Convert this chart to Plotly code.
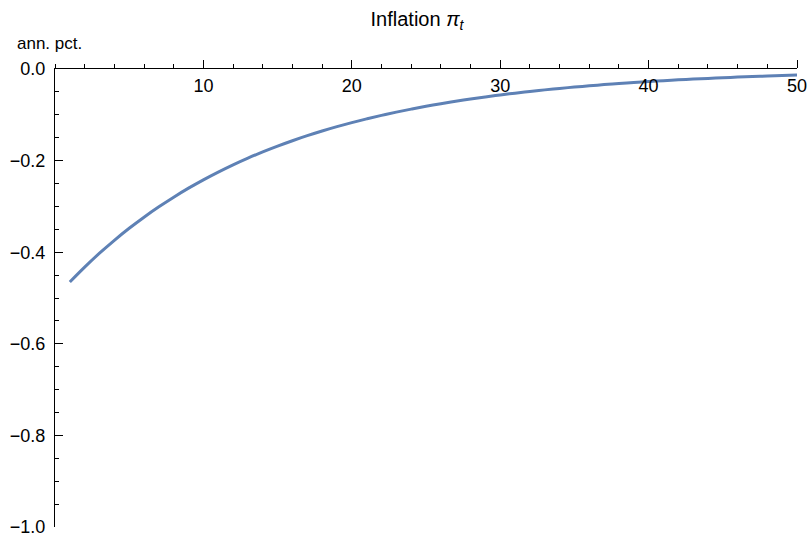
import plotly.graph_objects as go

t = list(range(1, 51))
inflation = [
    -0.465, -0.4325, -0.4022, -0.3740, -0.3478, -0.3235, -0.3009, -0.2798, -0.2602, -0.2420,
    -0.2251, -0.2093, -0.1946, -0.1810, -0.1684, -0.1566, -0.1456, -0.1354, -0.1259, -0.1171,
    -0.1089, -0.1013, -0.0942, -0.0876, -0.0815, -0.0758, -0.0705, -0.0655, -0.0610, -0.0567,
    -0.0527, -0.0490, -0.0456, -0.0424, -0.0394, -0.0367, -0.0341, -0.0317, -0.0295, -0.0274,
    -0.0255, -0.0237, -0.0221, -0.0205, -0.0191, -0.0177, -0.0165, -0.0154, -0.0143, -0.0133,
]
x_ticks = [10, 20, 30, 40, 50]
y_ticks = [0.0, -0.2, -0.4, -0.6, -0.8, -1.0]

font = "Liberation Sans, Arial, sans-serif"
L, R, T, B = 55, 13, 69, 9
W, H = 810, 536
pw, ph = W - L - R, H - T - B

fig = go.Figure()
fig.add_trace(go.Scatter(x=t, y=inflation, mode="lines",
                         line=dict(color="#5E81B5", width=3, shape="spline", smoothing=1),
                         hoverinfo="skip"))
# empty trace so the label-only overlay axis is drawn
fig.add_trace(go.Scatter(x=[0, 50], y=[None, None], xaxis="x2", mode="lines",
                         hoverinfo="skip", showlegend=False))

fig.update_layout(
    width=W, height=H,
    margin=dict(l=L, r=R, t=T, b=B, autoexpand=False),
    paper_bgcolor="white", plot_bgcolor="white",
    showlegend=False,
    font=dict(family=font, size=18, color="black"),
    title=dict(text="Inflation <i>π</i><sub><i>t</i></sub>", xref="container",
               x=417 / W, xanchor="center",
               y=1 - 19 / H, yanchor="middle", font=dict(size=20, family=font)),
    xaxis=dict(range=[0, 50], side="top", showgrid=False, zeroline=False,
               showline=True, linecolor="black", linewidth=1, automargin=False,
               tickvals=x_ticks, ticks="outside", ticklen=8, tickcolor="black",
               showticklabels=False,
               minor=dict(dtick=2, ticks="outside", ticklen=4, tickcolor="black")),
    xaxis2=dict(range=[0, 50], overlaying="x", matches="x", anchor="free", position=1,
                side="bottom", showgrid=False, zeroline=False, showline=False,
                automargin=False,
                tickvals=x_ticks, ticks="", ticklabelstandoff=4,
                ticklabeloverflow="allow", tickfont=dict(size=18)),
    yaxis=dict(range=[-1, 0], showgrid=False, zeroline=False,
               showline=True, linecolor="black", linewidth=1, automargin=False,
               tickvals=y_ticks, tickformat=".1f", ticks="inside", ticklen=8,
               tickcolor="black", ticklabelstandoff=5, ticklabeloverflow="allow",
               minor=dict(dtick=0.05, ticks="inside", ticklen=4, tickcolor="black"),
               tickfont=dict(size=18)),
)
fig.add_annotation(text="ann. pct.", xref="paper", yref="paper",
                   x=(15 - L) / pw, y=1 + (T - 44) / ph, xanchor="left", yanchor="middle",
                   showarrow=False, font=dict(size=17, family=font))

fig.write_html("out.html", config={"displayModeBar": False},
               post_script="document.body.style.margin='0';")
